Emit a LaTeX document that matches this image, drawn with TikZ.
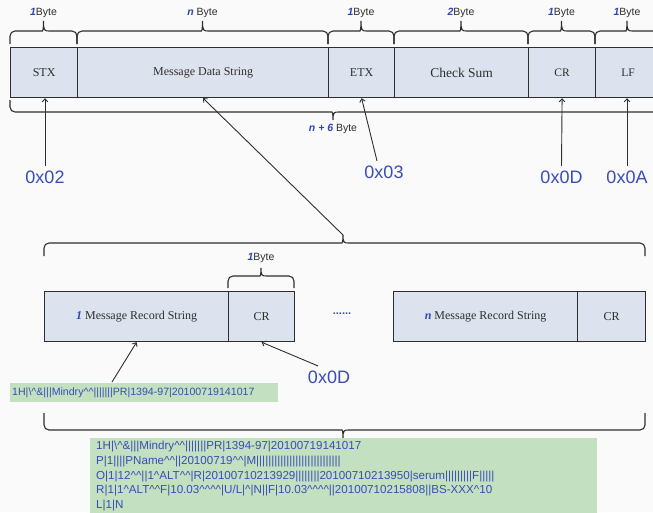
\documentclass[tikz,border=0pt]{standalone}
\usepackage{fontspec}
\setmainfont{Liberation Serif}
\setsansfont{Liberation Sans}
\usetikzlibrary{arrows.meta}
\definecolor{cellfill}{HTML}{DDE3EE}
\definecolor{gfill}{HTML}{C3E0C0}
\definecolor{hexblue}{HTML}{3A4DB5}
\definecolor{byteblue}{HTML}{2E46B0}
\definecolor{ink}{HTML}{2E2E2E}
\definecolor{bgc}{HTML}{FAFAFA}
\newcommand{\ca}{\textasciicircum}
\newcommand{\mybrace}[6]{% x1, x2, xtip, yend, yline, ytip
  \draw[brc,rounded corners=5pt] (#1,#4) -- (#1,#5) -- ({#3-6},#5) [sharp corners]
    .. controls ({#3-1},#5) and (#3,#5) .. (#3,#6)
    .. controls (#3,#5) and ({#3+1},#5) .. ({#3+6},#5) [rounded corners=5pt]
    -- (#2,#5) -- (#2,#4);}
\newcommand{\blab}[1]{{\bfseries\itshape\color{byteblue}#1}\color{ink}Byte}
\begin{document}
\begin{tikzpicture}[x=1pt,y=-1pt,
  cell/.style={draw=ink, line width=1.2pt, fill=cellfill, anchor=north west,
    minimum height=50pt, inner sep=0pt, text=ink, font=\fontsize{12}{14}\selectfont},
  brc/.style={draw=ink, line width=1.1pt},
  arr/.style={draw=ink, line width=0.9pt, -{Straight Barb[length=3pt,width=5.5pt]}},
  bytel/.style={font=\sffamily\fontsize{10.5}{12}\selectfont, inner sep=1pt},
  hex/.style={font=\sffamily\fontsize{18}{20}\selectfont, text=hexblue, inner sep=4.5pt},
  gbox/.style={fill=gfill, draw=none, anchor=north west, inner sep=0pt},
  gtxt/.style={text=hexblue, font=\sffamily\fontsize{11.6}{14.7}\selectfont, align=left,
    anchor=north west, inner sep=0pt}
]
\useasboundingbox (0,0) rectangle (653,512);
\clip (0,0) rectangle (653,512);
\fill[bgc] (0,0) rectangle (653,512);

% ---------- top row ----------
\node[cell, minimum width=67pt] (stx) at (10,47) {STX};
\node[cell, minimum width=251pt] (mds) at (77,47) {Message Data String};
\node[cell, minimum width=66pt] (etx) at (328,47) {ETX};
\node[cell, minimum width=134pt, font=\fontsize{13.5}{15}\selectfont] (cs) at (394,47) {Check Sum};
\node[cell, minimum width=67pt, font=\fontsize{11.5}{14}\selectfont] (cr) at (528,47) {CR};
\node[cell, minimum width=65pt, font=\fontsize{11.5}{14}\selectfont] (lf) at (595,47) {LF};

% top braces and labels
\mybrace{10}{77}{43.5}{44}{31}{21}
\mybrace{77}{328}{202.5}{44}{31}{21}
\mybrace{328}{394}{361}{44}{31}{21}
\mybrace{394}{528}{461}{44}{31}{21}
\mybrace{528}{595}{561.5}{44}{31}{21}
\mybrace{595}{660}{627}{44}{31}{21}
\node[bytel] (b1) at (43.5,13) {\blab{1}};
\node[bytel] (b2) at (202.5,13) {\blab{n }};
\node[bytel] (b3) at (361,13) {\blab{1}};
\node[bytel] (b4) at (461,13) {\blab{2}};
\node[bytel] (b5) at (561.5,13) {\blab{1}};
\node[bytel] (b6) at (627,13) {\blab{1}};

% n+6 brace
\mybrace{10}{660}{333}{100}{112}{120}
\node[bytel] (b7) at (333,129) {{\bfseries\itshape\color{byteblue}n + 6 }\color{ink}Byte};

% hex labels and arrows
\node[hex] (h02) at (45,177) {0x02};
\node[hex] (h03) at (384,172) {0x03};
\node[hex] (h0D) at (561.5,177) {0x0D};
\node[hex] (h0A) at (627,177) {0x0A};
\draw[arr] (h02.north) -- (h02.north |- stx.south);
\draw[arr] ([xshift=-7pt]h03.north) -- (etx.south);
\draw[arr] (h0D.north) -- (cr.south);
\draw[arr] (h0A.north) -- (h0A.north |- lf.south);

% middle brace
\mybrace{44}{645}{343}{256}{243}{235}
\coordinate (mtip) at (343,235);
\draw[arr] (mtip) -- (mds.south);

% ---------- second row ----------
\node[cell, minimum width=184pt] (rec1) at (44,291) {{\bfseries\itshape\color{byteblue}1} Message Record String};
\node[cell, minimum width=66pt] (cr1) at (228,291) {CR};
\node[text=hexblue, font=\sffamily\bfseries\fontsize{11}{12}\selectfont, inner sep=0pt] (dots) at (342,314) {......};
\node[cell, minimum width=184pt] (recn) at (393,291) {{\bfseries\itshape\color{byteblue}n} Message Record String};
\node[cell, minimum width=68pt] (crn) at (577,291) {CR};

\mybrace{228}{294}{261}{288}{276}{268}
\node[bytel] (b8) at (261,258) {\blab{1}};

\node[hex] (h0Db) at (329,377) {0x0D};
\draw[arr] ([xshift=-11pt]h0Db.north) -- (cr1.south);

\node[gbox, minimum width=268pt, minimum height=19pt] (g1) at (10,383) {};
\node[text=hexblue, font=\sffamily\fontsize{10.6}{12}\selectfont, anchor=west, inner sep=0pt] (g1t) at (12,392.5)
  {1H|\textbackslash\ca\&|||Mindry\ca\ca|||||||PR|1394-97|20100719141017};
\coordinate (g1a) at (112,382);
\draw[arr] (g1a) -- (rec1.south);

% bottom brace
\mybrace{44}{645}{343}{413}{430}{438}

\node[gbox, minimum width=507pt, minimum height=80pt] (g2) at (90,438) {};
\node[gtxt] (g2t) at (96,441) {%
1H|\textbackslash\ca\&|||Mindry\ca\ca|||||||PR|1394-97|20100719141017\\
P|1||||PName\ca\ca||20100719\ca\ca|M||||||||||||||||||||||||||||\\
O|1|12\ca\ca||1\ca ALT\ca\ca|R|20100710213929||||||||20100710213950|serum|||||||||F|||||\\
R|1|1\ca ALT\ca\ca F|10.03\ca\ca\ca\ca|U/L|\ca|N||F|10.03\ca\ca\ca\ca||20100710215808||BS-XXX\ca 10\\
L|1|N};
\end{tikzpicture}
\end{document}
